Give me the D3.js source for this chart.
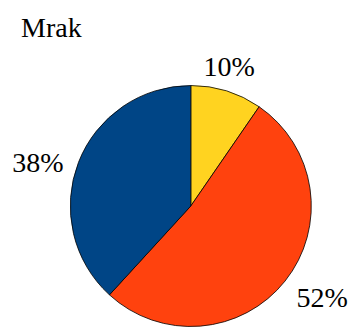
<!DOCTYPE html>
<html>
<head>
<meta charset="utf-8">
<script src="https://cdn.jsdelivr.net/npm/d3@7"></script>
<style>
  html, body { margin: 0; padding: 0; background: #fff; }
  svg { display: block; }
</style>
</head>
<body>
<svg id="chart" width="357" height="327"></svg>
<script>
const title = "Mrak";
const categories = ["A", "B", "C"];
const values = [9.6, 52.2, 38.2];
const labels = ["10%", "52%", "38%"];
const colors = ["#ffd320", "#ff420e", "#004586"];

const FONT = '"Liberation Serif"';
const FS = 28;
const cx = 190.8, cy = 206, r = 120.5;
const svg = d3.select("#chart");

svg.append("text")
  .attr("x", 21)
  .attr("y", 37)
  .attr("font-size", FS)
  .style("font-family", FONT)
  .attr("fill", "#000")
  .text(title);

const pie = d3.pie().sort(null).value(d => d)(values);
const arc = d3.arc().innerRadius(0).outerRadius(r);

const g = svg.append("g").attr("transform", `translate(${cx},${cy})`);
g.selectAll("path")
  .data(pie)
  .join("path")
  .attr("d", arc)
  .attr("fill", (d, i) => colors[i])
  .attr("stroke", "#000")
  .attr("stroke-width", 0.8);

const R = 132;
const labelW = 57;
function labelPos(d) {
  const a = (d.startAngle + d.endAngle) / 2 - 0.06;
  const s = Math.sin(a), c = Math.cos(a);
  const hh = c < 0 ? 52 : 26;
  return [R * s + s * labelW / 2, -R * c - c * hh / 2 + 10.5];
}
g.selectAll("text.lbl")
  .data(pie)
  .join("text")
  .attr("class", "lbl")
  .attr("x", d => labelPos(d)[0])
  .attr("y", d => labelPos(d)[1])
  .attr("font-size", FS)
  .style("font-family", FONT)
  .attr("fill", "#000")
  .attr("text-anchor", "middle")
  .text((d, i) => labels[i]);
</script>
</body>
</html>
